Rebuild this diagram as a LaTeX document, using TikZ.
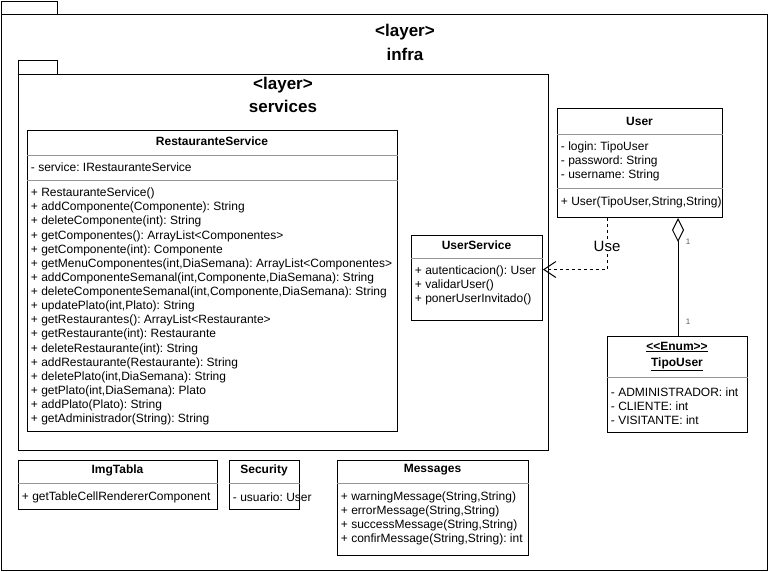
\documentclass[tikz,border=0pt]{standalone}
\usepackage{fontspec}
\setmainfont{Liberation Sans}
\usetikzlibrary{arrows.meta}
\frenchspacing

\tikzset{
  box/.style={draw, line width=1pt, inner sep=0pt, anchor=north west},
  member/.style={anchor=west, inner sep=0.75pt, font=\fontsize{12}{14}\selectfont},
  title/.style={inner sep=0.75pt, font=\fontsize{12}{14}\selectfont\bfseries},
  layer/.style={inner sep=0.75pt, font=\fontsize{17}{20}\selectfont\bfseries},
  mult/.style={inner sep=0.75pt, font=\fontsize{8}{9}\selectfont, color={rgb, 255:red, 90; green, 90; blue, 90}},
  sep/.style={line width=0.5pt, color={rgb, 255:red, 150; green, 150; blue, 150}},
}

\begin{document}
\begin{tikzpicture}[x=1pt,y=1pt,yscale=-1,xscale=1]
\useasboundingbox (0,0) rectangle (768,571);

%Packages
\node [box, minimum width=56pt, minimum height=13pt] (infratab) at (1,1) {};
\node [box, minimum width=766pt, minimum height=556pt] (infra) at (1,14) {};
\node [box, minimum width=39pt, minimum height=14pt] (servtab) at (18,60) {};
\node [box, minimum width=530pt, minimum height=376pt] (services) at (18,74) {};
% Text Node
\node [layer] (infrast) at (405,32) {<layer>};
\node [layer] (infraname) at (405,54) {infra};
\node [layer] (servst) at (283,85) {<layer>};
\node [layer] (servname) at (283,106) {services};

%Class RestauranteService
\node [box, minimum width=370pt, minimum height=301pt] (rest) at (27,130) {};
\draw [sep] (rest.west |- 0,155) -- (rest.east |- 0,155);
\draw [sep] (rest.west |- 0,180) -- (rest.east |- 0,180);
\node [title] (resttitle) at (212,141) {RestauranteService};
\node [member] (resta1) at (30,167.5) {- service: IRestauranteService};
\node [member] (restm1) at (30,193.5) {+ RestauranteService()};
\node [member] (restm2) at (30,207.6) {+ addComponente(Componente): String};
\node [member] (restm3) at (30,221.8) {+ deleteComponente(int): String};
\node [member] (restm4) at (30,235.9) {+ getComponentes(): ArrayList<Componentes>};
\node [member] (restm5) at (30,250) {+ getComponente(int): Componente};
\node [member] (restm6) at (30,264.1) {+ getMenuComponentes(int,DiaSemana): ArrayList<Componentes>};
\node [member] (restm7) at (30,278.3) {+ addComponenteSemanal(int,Componente,DiaSemana): String};
\node [member] (restm8) at (30,292.4) {+ deleteComponenteSemanal(int,Componente,DiaSemana): String};
\node [member] (restm9) at (30,306.5) {+ updatePlato(int,Plato): String};
\node [member] (restm10) at (30,320.6) {+ getRestaurantes(): ArrayList<Restaurante>};
\node [member] (restm11) at (30,334.8) {+ getRestaurante(int): Restaurante};
\node [member] (restm12) at (30,348.9) {+ deleteRestaurante(int): String};
\node [member] (restm13) at (30,363) {+ addRestaurante(Restaurante): String};
\node [member] (restm14) at (30,377.1) {+ deletePlato(int,DiaSemana): String};
\node [member] (restm15) at (30,391.3) {+ getPlato(int,DiaSemana): Plato};
\node [member] (restm16) at (30,405.4) {+ addPlato(Plato): String};
\node [member] (restm17) at (30,419.5) {+ getAdministrador(String): String};

%Class UserService
\node [box, minimum width=131pt, minimum height=85pt] (usersvc) at (411,235) {};
\draw [sep] (usersvc.west |- 0,258) -- (usersvc.east |- 0,258);
\node [title] (usersvctitle) at (476.5,245) {UserService};
\node [member] (usersvcm1) at (414,271.5) {+ autenticacion(): User};
\node [member] (usersvcm2) at (414,285.5) {+ validarUser()};
\node [member] (usersvcm3) at (414,299.5) {+ ponerUserInvitado()};

%Class User
\node [box, minimum width=165pt, minimum height=109pt] (user) at (557,108) {};
\draw [sep] (user.west |- 0,134) -- (user.east |- 0,134);
\draw [sep] (user.west |- 0,188) -- (user.east |- 0,188);
\node [title] (usertitle) at (639.5,121) {User};
\node [member] (usera1) at (560,147.5) {- login: TipoUser};
\node [member] (usera2) at (560,161.5) {- password: String};
\node [member] (usera3) at (560,175.5) {- username: String};
\node [member] (userm1) at (560,202.5) {+ User(TipoUser,String,String)};

%Enum TipoUser
\node [box, minimum width=140pt, minimum height=96pt] (tipo) at (607,336) {};
\draw [sep] (tipo.west |- 0,377) -- (tipo.east |- 0,377);
\node [title] (tipost) at (677,347) {\underline{{<}{<}Enum{>}{>}}};
\node [title] (tipotitle) at (677,364) {\underline{TipoUser}};
\node [member] (tipoa1) at (610,392.5) {- ADMINISTRADOR: int};
\node [member] (tipoa2) at (610,406.5) {- CLIENTE: int};
\node [member] (tipoa3) at (610,420.5) {- VISITANTE: int};

%Class ImgTabla
\node [box, minimum width=199pt, minimum height=49pt] (img) at (18,460) {};
\draw [sep] (img.west |- 0,483) -- (img.east |- 0,483);
\node [title] (imgtitle) at (117.5,470) {ImgTabla};
\node [member] (imgm1) at (21,497.5) {+ getTableCellRendererComponent};

%Class Security
\node [box, minimum width=70pt, minimum height=49pt] (sec) at (229,460) {};
\draw [sep] (sec.west |- 0,483) -- (sec.east |- 0,483);
\node [title] (sectitle) at (264,470) {Security};
\node [member] (seca1) at (232,497.5) {- usuario: User};

%Class Messages
\node [box, minimum width=191pt, minimum height=95pt] (msg) at (337,460) {};
\draw [sep] (msg.west |- 0,483) -- (msg.east |- 0,483);
\node [title] (msgtitle) at (432.5,470) {Messages};
\node [member] (msgm1) at (340,497.5) {+ warningMessage(String,String)};
\node [member] (msgm2) at (340,511.5) {+ errorMessage(String,String)};
\node [member] (msgm3) at (340,525.5) {+ successMessage(String,String)};
\node [member] (msgm4) at (340,539.5) {+ confirMessage(String,String): int};

%Dependency User -> UserService
\draw [line width=1pt, dash pattern=on 3pt off 3pt, -{Straight Barb[length=12pt,width=16pt]}]
  ([xshift=50pt]user.south west) |- ([yshift=-8.5pt]usersvc.east);
\node [inner sep=0.75pt, font=\fontsize{15}{18}\selectfont, fill=white] (uselbl) at (607,246) {Use};

%Aggregation TipoUser -> User
\draw [line width=1pt, {Diamond[open, fill=white, length=24pt, width=12pt]}-]
  ([xshift=121pt]user.south west) -- ([xshift=71pt]tipo.north west);
\node [mult] (mult1) at (688,242) {1};
\node [mult] (mult2) at (688,322) {1};

\end{tikzpicture}
\end{document}
